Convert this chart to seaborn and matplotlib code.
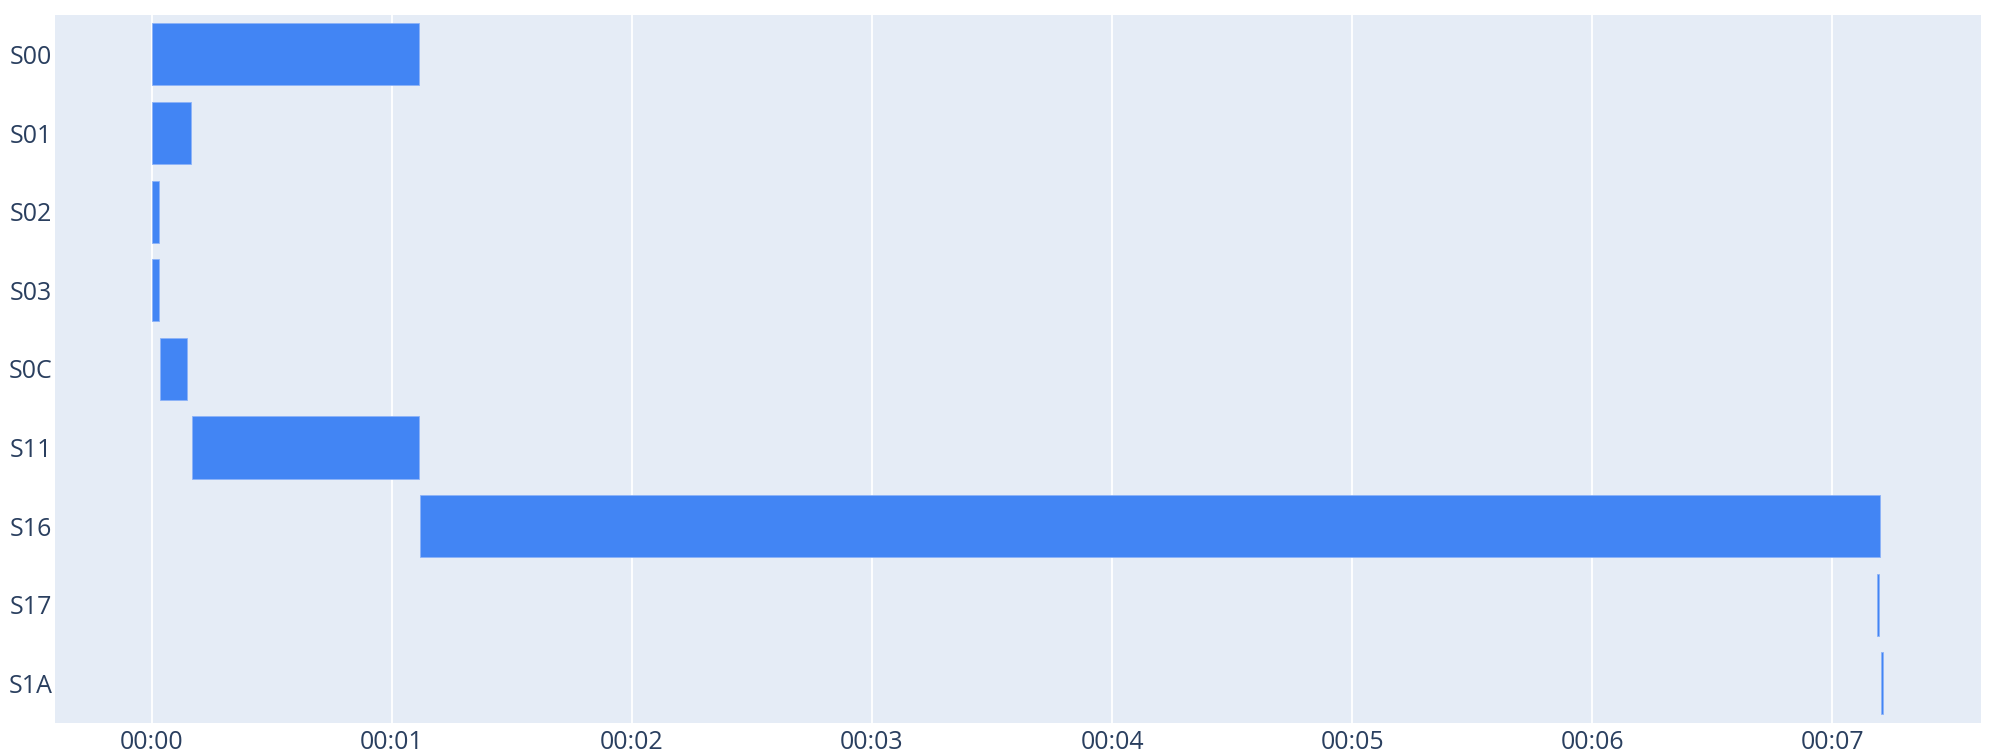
import matplotlib
matplotlib.use("Agg")
import matplotlib.pyplot as plt
import seaborn as sns
import pandas as pd

# task timeline, seconds
tasks = ["S00", "S01", "S02", "S03", "S0C", "S11", "S16", "S17", "S1A"]
starts = [0.0, 0.0, 0.0, 0.0, 0.035, 0.167, 1.117, 7.186, 7.203]
ends = [1.113, 0.164, 0.030, 0.030, 0.146, 1.113, 7.197, 7.195, 7.212]
tick_secs = [0, 1, 2, 3, 4, 5, 6, 7]
tick_labels = ["00:00", "00:01", "00:02", "00:03", "00:04", "00:05", "00:06", "00:07"]

df = pd.DataFrame({"task": tasks, "start": starts, "end": ends})
df["duration"] = df["end"] - df["start"]

sns.set_theme(style="darkgrid")
plt.rcParams["font.family"] = ["Open Sans", "DejaVu Sans"]

fig = plt.figure(figsize=(19.99, 7.53), dpi=100)
ax = fig.add_axes([0.0275, 0.0402, 0.9635, 0.9398])
ax.set_facecolor("#E5ECF6")

sns.barplot(
    data=df,
    x="duration",
    y="task",
    order=tasks,
    orient="y",
    color="#4285F4",
    saturation=1,
    width=0.79,
    left=df["start"].values,
    edgecolor="#8DB3F8",
    linewidth=0.6,
    errorbar=None,
    ax=ax,
)

ax.set_xlim(-0.403, 7.619)
ax.set_ylim(8.5, -0.5)
ax.set_xticks(tick_secs)
ax.set_xticklabels(tick_labels)
ax.grid(axis="x", color="white", linewidth=1.3)
ax.grid(axis="y", visible=False)
ax.set_axisbelow(True)
for s in ax.spines.values():
    s.set_visible(False)
ax.tick_params(axis="both", length=0, labelsize=18, colors="#2a3f5f")
ax.tick_params(axis="y", pad=2)
ax.tick_params(axis="x", pad=5)
ax.set_xlabel("")
ax.set_ylabel("")

fig.savefig("out.png", dpi=100, facecolor="white")
